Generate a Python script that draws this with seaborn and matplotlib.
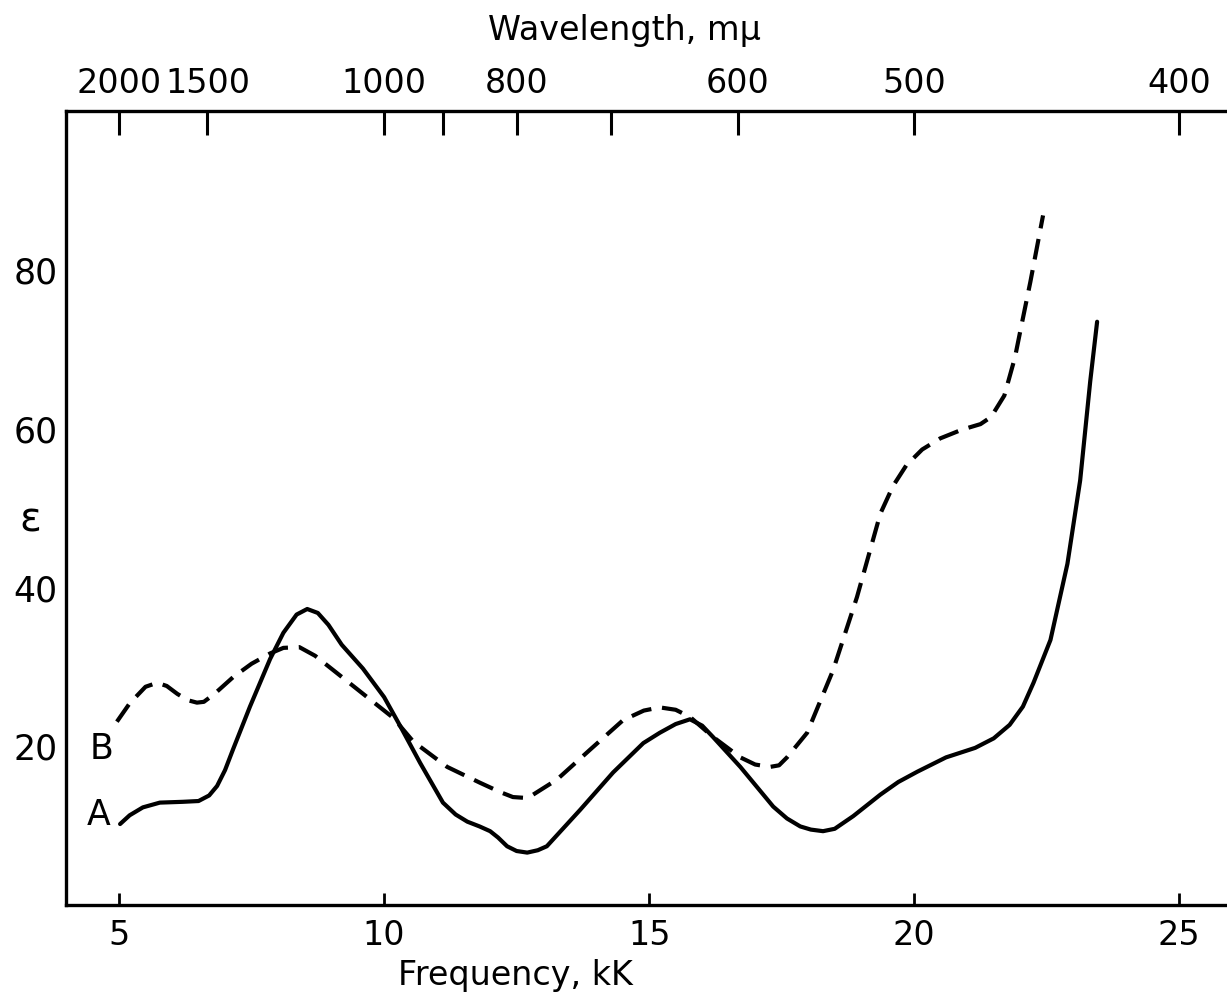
import matplotlib
matplotlib.use("Agg")
import matplotlib.pyplot as plt
import pandas as pd
import seaborn as sns

# curve A (solid): frequency in kK, epsilon
freq_a = [5.02, 5.2, 5.45, 5.77, 6.2, 6.5, 6.7, 6.85, 7.0, 7.15, 7.47, 7.85, 8.1, 8.35,
          8.55, 8.75, 8.95, 9.2, 9.6, 10.0, 10.3, 10.68, 11.11, 11.35, 11.57, 11.8,
          12.0, 12.15, 12.32, 12.5, 12.7, 12.9, 13.07, 13.7, 14.32, 14.89, 15.2, 15.5,
          15.77, 16.0, 16.2, 16.72, 17.34, 17.6, 17.85, 18.05, 18.28, 18.5, 18.85,
          19.36, 19.7, 20.06, 20.6, 21.15, 21.5, 21.8, 22.05, 22.25, 22.57, 22.89,
          23.13, 23.32, 23.45]
eps_a = [10.2, 11.3, 12.3, 12.9, 13.0, 13.1, 13.8, 15.0, 17.0, 19.6, 25.0, 31.0, 34.3, 36.6,
         37.3, 36.8, 35.3, 32.8, 29.8, 26.2, 22.6, 17.9, 12.9, 11.4, 10.5, 9.9,
         9.3, 8.5, 7.4, 6.8, 6.6, 6.9, 7.4, 12.0, 16.7, 20.4, 21.7, 22.8,
         23.4, 22.6, 21.2, 17.4, 12.4, 10.9, 9.9, 9.5, 9.3, 9.6, 11.2,
         13.9, 15.5, 16.8, 18.6, 19.8, 21.0, 22.7, 25.0, 28.0, 33.4, 43.0,
         53.5, 66.0, 73.5]

# curve B (dashed)
freq_b = [4.96, 5.2, 5.5, 5.72, 5.9, 6.1, 6.3, 6.47, 6.6, 6.8, 7.15, 7.5, 7.85, 8.1,
          8.4, 8.7, 9.04, 9.68, 10.17, 10.55, 11.19, 11.81, 12.2, 12.43, 12.65, 12.81,
          13.26, 13.89, 14.51, 14.9, 15.2, 15.5, 15.77, 16.2, 16.72, 17.0, 17.28,
          17.45, 17.6, 17.98, 18.47, 18.92, 19.36, 19.6, 19.85, 20.15, 20.49, 20.9,
          21.25, 21.45, 21.7, 21.9, 22.0, 22.19, 22.43]
eps_b = [23.1, 25.4, 27.5, 28.0, 27.6, 26.6, 25.8, 25.5, 25.6, 26.6, 28.7, 30.4, 31.7, 32.4,
         32.5, 31.4, 29.6, 26.2, 23.6, 20.6, 17.4, 15.4, 14.2, 13.6, 13.5, 13.9,
         15.8, 19.6, 23.3, 24.5, 24.9, 24.6, 23.7, 21.2, 18.6, 17.7, 17.4,
         17.6, 18.6, 21.7, 29.6, 38.8, 49.3, 52.8, 55.4, 57.4, 58.8, 59.9,
         60.6, 61.5, 64.2, 69.0, 72.3, 78.5, 86.9]

freq_ticks = [5, 10, 15, 20, 25]
eps_ticks = [20, 40, 60, 80]
wl_ticks = [2000, 1500, 1000, 900, 800, 700, 600, 500, 400]
wl_labels = ["2000", "1500", "1000", "", "800", "", "600", "500", "400"]

sns.set_style("white")
plt.rcParams["font.family"] = ["DejaVu Sans"]
for key in ["text.color", "axes.labelcolor", "xtick.color", "ytick.color"]:
    plt.rcParams[key] = "black"
fs_x, fs_y = 24, 25

df = pd.concat([
    pd.DataFrame({"freq": freq_a, "eps": eps_a, "curve": "A"}),
    pd.DataFrame({"freq": freq_b, "eps": eps_b, "curve": "B"}),
], ignore_index=True)

fig = plt.figure(figsize=(12.27, 9.97), dpi=100)
ax = fig.add_axes([0.0538, 0.0923, 0.9462, 0.7959])

sns.lineplot(data=df, x="freq", y="eps", style="curve", units="curve",
             estimator=None, sort=False, dashes={"A": "", "B": (5, 2.6)},
             color="black", lw=3, legend=False, ax=ax)

ax.set_xlim(4.0, 25.9)
ax.set_ylim(0, 100)
ax.set_xticks(freq_ticks)
ax.set_yticks(eps_ticks)
ax.tick_params(axis="x", direction="in", length=9, width=2, pad=10, labelsize=fs_x)
ax.tick_params(axis="y", direction="in", length=11, width=2.2, pad=6, labelsize=fs_y)
for side in ["left", "bottom", "top"]:
    ax.spines[side].set_linewidth(2.4)
    ax.spines[side].set_color("black")
ax.spines["right"].set_visible(False)

ax.set_xlabel("Frequency, kK", fontsize=fs_x)
ax.xaxis.set_label_coords(0.387, -0.068)
ax.set_ylabel("ε", fontsize=29, rotation=0, va="center", ha="center")
ax.yaxis.set_label_coords(-0.031, 0.485)

ax.text(4.62, 11.3, "A", fontsize=fs_y, ha="center", va="center")
ax.text(4.68, 19.6, "B", fontsize=fs_y, ha="center", va="center")

# wavelength scale on top
top = ax.twiny()
top.set_xlim(ax.get_xlim())
top.set_xticks([1e4 / w for w in wl_ticks], labels=wl_labels)
top.tick_params(axis="x", direction="in", length=17, width=2.2, pad=8, labelsize=fs_x)
for s in top.spines.values():
    s.set_visible(False)
top.set_xlabel("Wavelength, mμ", fontsize=fs_x)
top.xaxis.set_label_coords(0.481, 1.09)

fig.savefig("out.png", dpi=100)
